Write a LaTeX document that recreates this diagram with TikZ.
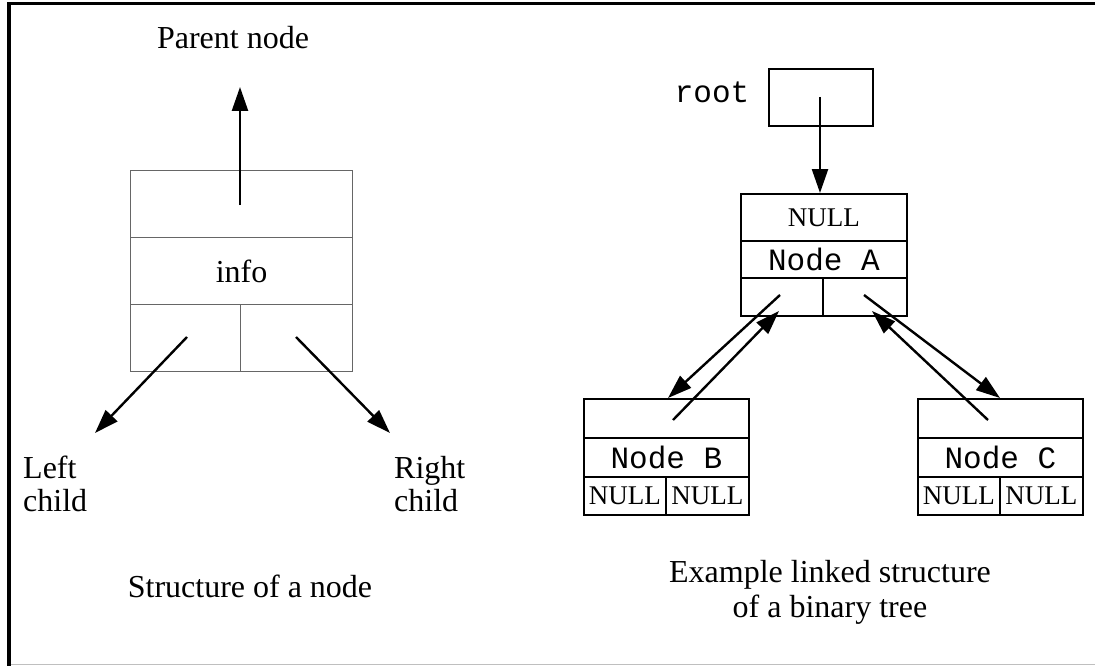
\documentclass[tikz,border=0pt]{standalone}
\usepackage{fontspec}
\setmainfont{Liberation Serif}
\newfontfamily\mono{Liberation Mono}
\usetikzlibrary{arrows.meta}
\tikzset{
  lcell/.style={draw=black!60, line width=1.2pt, minimum height=67pt, inner sep=0pt, anchor=north west},
  rcell/.style={draw=black, line width=1.8pt, inner sep=0pt, anchor=north west},
  ptr/.style={line width=2.4pt, -{Triangle[length=24pt,width=16pt]}},
  label32/.style={font=\fontsize{32pt}{33pt}\selectfont, inner sep=0pt},
  nullfont/.style={font=\fontsize{27pt}{27pt}\selectfont},
  monofont/.style={font=\mono\fontsize{31pt}{31pt}\selectfont},
}
\begin{document}
\begin{tikzpicture}[x=1pt, y=-1pt]
\useasboundingbox (0,0) rectangle (1095,666);
% frame
\draw[line width=3.5pt] (9,666) -- (9,3.5) -- (1095,3.5);
\draw[black!25, line width=1.5pt] (11,664.5) -- (1095,664.5);

% ---------- structure of a single node ----------
\node[lcell, minimum width=222pt] (lpar) at (130,170) {};
\node[lcell, minimum width=222pt, label32] (linfo) at (130,237) {info};
\node[lcell, minimum width=110pt] (lleft) at (130,304) {};
\node[lcell, minimum width=112pt] (lright) at (240,304) {};

\node[label32] (tparent) at (233,38) {Parent node};
\node[label32, align=left, anchor=west] (tleft) at (23,484) {Left\\child};
\node[label32, align=left, anchor=west] (tright) at (394,484) {Right\\child};
\node[label32] (tcap1) at (250,586) {Structure of a node};

\coordinate (ps) at (240,205);
\coordinate (pt) at (240,87);
\coordinate (ls) at (187,337);
\coordinate (lt) at (95,433);
\coordinate (rs) at (296,337);
\coordinate (rt) at (390,433);
\draw[ptr] (ps) -- (pt);
\draw[ptr] (ls) -- (lt);
\draw[ptr] (rs) -- (rt);

% ---------- example binary tree ----------
\node[monofont, inner sep=0pt] (troot) at (712,92) {root};
\node[rcell, minimum width=104pt, minimum height=57pt] (rootbox) at (768,68) {};

% node A
\node[rcell, minimum width=166pt, minimum height=47pt, nullfont] (anull) at (740,193) {NULL};
\node[rcell, minimum width=166pt, minimum height=37pt, monofont] (aname) at (740,240) {Node A};
\node[rcell, minimum width=82pt, minimum height=38pt] (aleft) at (740,277) {};
\node[rcell, minimum width=84pt, minimum height=38pt] (aright) at (822,277) {};

% node B
\node[rcell, minimum width=165pt, minimum height=39pt] (bptr) at (583,398) {};
\node[rcell, minimum width=165pt, minimum height=39pt, monofont] (bname) at (583,437) {Node B};
\node[rcell, minimum width=82pt, minimum height=38pt, nullfont] (bl) at (583,476) {NULL};
\node[rcell, minimum width=83pt, minimum height=38pt, nullfont] (br) at (665,476) {NULL};

% node C
\node[rcell, minimum width=165pt, minimum height=39pt] (cptr) at (917,398) {};
\node[rcell, minimum width=165pt, minimum height=39pt, monofont] (cname) at (917,437) {Node C};
\node[rcell, minimum width=82pt, minimum height=38pt, nullfont] (cl) at (917,476) {NULL};
\node[rcell, minimum width=83pt, minimum height=38pt, nullfont] (cr) at (999,476) {NULL};

\node[label32, align=center, font=\fontsize{32pt}{35pt}\selectfont] (tcap2) at (830,592) {Example linked structure\\of a binary tree};

% pointers
\coordinate (rootp) at (820,97);
\draw[ptr] (rootp) -- (rootp |- anull.north);

\coordinate (abs) at (780,295);
\coordinate (abt) at (668,398);
\coordinate (bas) at (673,420);
\coordinate (bat) at (779,311);
\coordinate (acs) at (864,295);
\coordinate (act) at (1000,398);
\coordinate (cas) at (988,420);
\coordinate (cat) at (872,311);
\draw[ptr] (abs) -- (abt);
\draw[ptr] (bas) -- (bat);
\draw[ptr] (acs) -- (act);
\draw[ptr] (cas) -- (cat);
\end{tikzpicture}
\end{document}
